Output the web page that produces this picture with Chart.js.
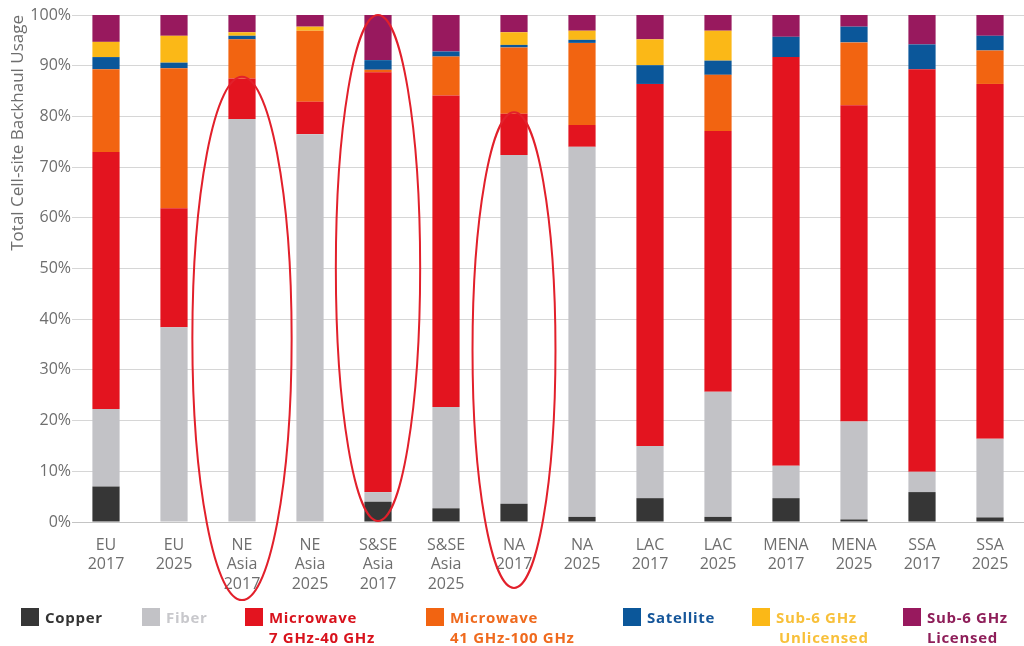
<!DOCTYPE html>
<html>
<head>
<meta charset="utf-8">
<script src="https://cdn.jsdelivr.net/npm/chart.js@4.4.1/dist/chart.umd.min.js"></script>
<style>
  html, body { margin: 0; padding: 0; background: #ffffff; }
  #wrap { position: relative; width: 1024px; height: 646px; overflow: hidden; }
  #chart { position: absolute; left: 0; top: 0; }
  .key { position: absolute; top: 607px; font-family: "Open Sans", sans-serif; font-weight: 700;
         font-size: 15px; letter-spacing: 0.7px; line-height: 20px; white-space: nowrap; }
  .key .sw { position: absolute; left: 0; top: 1px; width: 18px; height: 18px; }
  .key .tx { position: absolute; left: 24px; top: 0; }
</style>
</head>
<body>
<div id="wrap">
  <canvas id="chart" width="1024" height="646"></canvas>
  <div id="legend"></div>
</div>
<script>
// Regions and years along the x axis
const categories = [
  ['EU', '2017'], ['EU', '2025'],
  ['NE', 'Asia', '2017'], ['NE', 'Asia', '2025'],
  ['S&SE', 'Asia', '2017'], ['S&SE', 'Asia', '2025'],
  ['NA', '2017'], ['NA', '2025'],
  ['LAC', '2017'], ['LAC', '2025'],
  ['MENA', '2017'], ['MENA', '2025'],
  ['SSA', '2017'], ['SSA', '2025']
];

// Share of cell sites by backhaul technology (%)
const copper      = [7.0, 0.0, 0.0, 0.0, 4.0, 2.7, 3.6, 1.0, 4.7, 1.0, 4.7, 0.5, 5.9, 0.9];
const fiber       = [15.3, 38.4, 79.5, 76.5, 1.9, 20.0, 68.8, 73.0, 10.3, 24.7, 6.4, 19.3, 4.0, 15.5];
const mwLow       = [50.7, 23.5, 8.0, 6.4, 82.8, 61.4, 8.1, 4.3, 71.4, 51.4, 80.6, 62.4, 79.4, 70.0];
const mwHigh      = [16.3, 27.6, 7.7, 14.0, 0.5, 7.7, 13.1, 16.2, 0.0, 11.1, 0.0, 12.4, 0.0, 6.6];
const satellite   = [2.4, 1.1, 0.7, 0.0, 1.9, 1.0, 0.5, 0.6, 3.7, 2.8, 4.0, 3.1, 4.9, 2.9];
const sub6Unlic   = [3.0, 5.3, 0.7, 0.8, 0.0, 0.0, 2.5, 1.8, 5.1, 5.9, 0.0, 0.0, 0.0, 0.0];
const sub6Lic     = [5.3, 4.1, 3.4, 2.3, 8.9, 7.2, 3.4, 3.1, 4.8, 3.1, 4.3, 2.3, 5.8, 4.1];

const yTicks = [0, 10, 20, 30, 40, 50, 60, 70, 80, 90, 100];

const series = [
  { name: 'Copper',    lines: ['Copper'],                     data: copper,    color: '#363636', text: '#333333' },
  { name: 'Fiber',     lines: ['Fiber'],                      data: fiber,     color: '#c2c2c6', text: '#c8c8cc' },
  { name: 'Microwave 7 GHz-40 GHz',   lines: ['Microwave', '7 GHz-40 GHz'],   data: mwLow,  color: '#e3141f', text: '#d8121c' },
  { name: 'Microwave 41 GHz-100 GHz', lines: ['Microwave', '41 GHz-100 GHz'], data: mwHigh, color: '#f26411', text: '#ef6a1e' },
  { name: 'Satellite', lines: ['Satellite'],                  data: satellite, color: '#0b579a', text: '#15569a' },
  { name: 'Sub-6 GHz Unlicensed', lines: ['Sub-6 GHz', 'Unlicensed'], data: sub6Unlic, color: '#fbb817', text: '#f8c03a' },
  { name: 'Sub-6 GHz Licensed',   lines: ['Sub-6 GHz', 'Licensed'],   data: sub6Lic,   color: '#98195e', text: '#8e1e59' }
];

// Legend placement along the bottom row
const legendLeft = [21, 142, 245, 426, 623, 752, 903];
const legendIndent = [[0], [0], [0, 0], [0, 0], [0], [0, 3], [0, 0]];

// Red rings drawn around selected stacks (category index, top/bottom in %, half width in categories)
const rings = [
  { category: 2, top: 87.8, bottom: -15.4, halfWidth: 0.73 },
  { category: 4, top: 100,  bottom: 0.2,   halfWidth: 0.62 },
  { category: 6, top: 80.8, bottom: -13.0, halfWidth: 0.61 }
];

const ringPlugin = {
  id: 'rings',
  afterDraw(chart) {
    const x = chart.scales.x, y = chart.scales.y, ctx = chart.ctx;
    const step = x.getPixelForValue(1) - x.getPixelForValue(0);
    ctx.save();
    ctx.strokeStyle = '#e2202b';
    ctx.lineWidth = 2;
    rings.forEach(r => {
      const cx = x.getPixelForValue(r.category);
      const yt = y.getPixelForValue(r.top), yb = y.getPixelForValue(r.bottom);
      ctx.beginPath();
      ctx.ellipse(cx, (yt + yb) / 2, r.halfWidth * step, (yb - yt) / 2, 0, 0, Math.PI * 2);
      ctx.stroke();
    });
    ctx.restore();
  }
};

const font = "'Open Sans', sans-serif";

new Chart(document.getElementById('chart'), {
  type: 'bar',
  data: {
    labels: categories,
    datasets: series.map(s => ({
      label: s.name,
      data: s.data,
      backgroundColor: s.color,
      borderWidth: 0,
      barPercentage: 0.4,
      categoryPercentage: 1.0
    }))
  },
  options: {
    responsive: false,
    animation: false,
    layout: { padding: { top: 15, right: 0, bottom: 0, left: 0 } },
    plugins: { legend: { display: false }, tooltip: { enabled: false } },
    scales: {
      x: {
        stacked: true,
        grid: { display: false, drawTicks: false },
        border: { display: true, color: '#c4c4c4', width: 1 },
        ticks: { color: '#6e6e6e', padding: 14, maxRotation: 0, autoSkip: false,
                 font: { family: font, size: 16 } },
        afterFit(s) { s.height = 124; }
      },
      y: {
        stacked: true,
        min: 0, max: 100,
        afterBuildTicks(s) { s.ticks = yTicks.map(v => ({ value: v })); },
        grid: { color: '#d6d6d6', lineWidth: 1, drawTicks: false },
        border: { display: false },
        ticks: { color: '#6e6e6e', padding: 1, font: { family: font, size: 16 },
                 callback: v => v + '%' },
        title: { display: true, text: 'Total Cell-site Backhaul Usage', align: 'end',
                 color: '#6e6e6e', font: { family: font, size: 17 }, padding: { top: 8, bottom: 0 } },
        afterFit(s) { s.width = 72; }
      }
    }
  },
  plugins: [ringPlugin]
});

// Legend row
const legend = document.getElementById('legend');
series.forEach((s, i) => {
  const item = document.createElement('div');
  item.className = 'key';
  item.style.left = legendLeft[i] + 'px';
  item.style.color = s.text;
  const sw = document.createElement('div');
  sw.className = 'sw';
  sw.style.background = s.color;
  item.appendChild(sw);
  const tx = document.createElement('div');
  tx.className = 'tx';
  tx.innerHTML = s.lines.map((l, k) =>
    '<div style="padding-left:' + legendIndent[i][k] + 'px">' + l + '</div>').join('');
  item.appendChild(tx);
  legend.appendChild(item);
});
</script>
</body>
</html>
